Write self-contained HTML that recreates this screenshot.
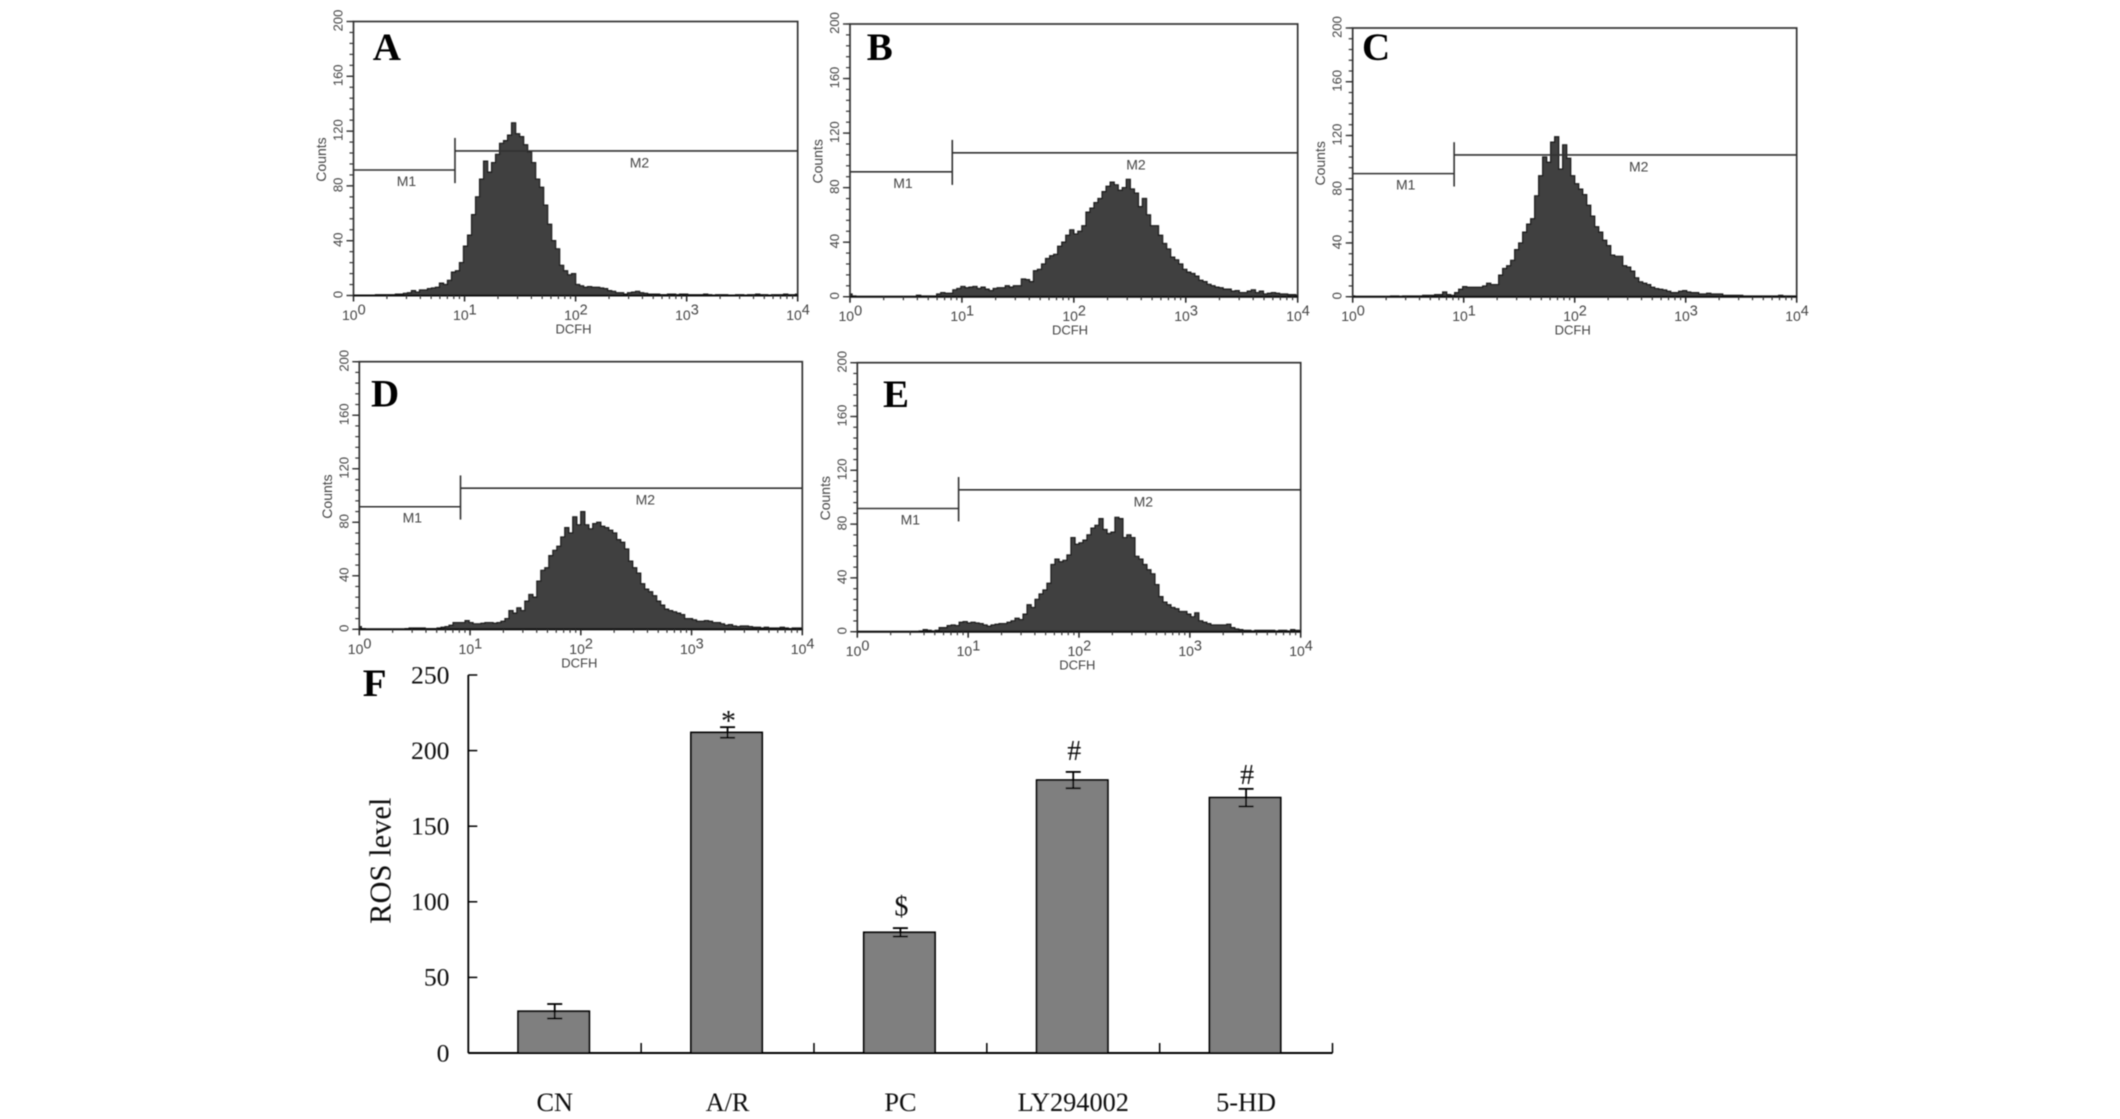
<!DOCTYPE html>
<html lang="en">
<head>
<meta charset="utf-8">
<title>ROS level flow cytometry figure</title>
<style>
html,body{margin:0;padding:0;background:#fff;}
svg{display:block;}
.hist-text{font-family:"Liberation Sans",Arial,sans-serif;fill:#444;}
.ser-text{font-family:"Liberation Serif","Times New Roman",serif;fill:#111;}
</style>
</head>
<body>
<svg id="figure" xmlns="http://www.w3.org/2000/svg" width="2120" height="1119" viewBox="0 0 2120 1119">
<defs>
<filter id="soften" filterUnits="userSpaceOnUse" x="0" y="0" width="2120" height="1119"><feGaussianBlur stdDeviation="0.4"/></filter>
</defs>
<rect x="0" y="0" width="2120" height="1119" fill="#fff"/>
<g id="panels" filter="url(#soften)"></g>
<g id="bars" filter="url(#soften)"></g>
</svg>
<script>
// ---------- Histogram data (counts per log channel, 10^0 .. 10^4) ----------
const countsA = [0,0,0,0,0,0,.5,.5,.5,.5,
.5,1,1,1.5,2,3.5,2.5,4,4,5,
5.5,6,9,8,11,17,18,24,36,44,
59,72,85,98,90,97,103,111,113,117,
126,118,116,110,105,97,85,79,66,52,
40,34,22,18,15,16,8,7,6,6.5,
6,6,5.5,5,3.5,3,2,2,1,2,
2.5,3,2,1.5,1,1,1,.5,.5,1,
1,.5,1,1,.5,.5,.5,.5,1,.5,
0,.5,.5,.5,0,0,.5,.5,0,.5,
.5,1,.5,.5,0,.5,.5,.5,1,.5,
.5,1];
const countsB = [2,.5,0,0,0,0,0,0,0,0,
0,0,0,0,0,0,0,1,.5,.5,
.5,.5,2,3,2.5,2.5,5,6,7.5,6.5,
7,7.5,6,7,5.5,4.5,6,6.5,6.5,8,
7,8,8,13,12.5,11,19,20,24,28,
30,31,37,40,45,49,46,48,52,62,
65,69,72,77,81,84,82,78,80,86,
79,76,66,72,60,52,52,45,39,35,
29,27,24,20,18,17,15,12,11,9,
8,7,6.5,5.5,5.5,4,4.5,3,3,4,
5,3,4,2,2.5,3,2.5,2,2,1.5,
1.5,1];
const countsC = [.5,0,0,0,0,0,0,0,0,0,
.5,.5,0,.5,.5,.5,.5,.5,1,1,
1,1.5,1.5,3.5,1.5,1,3,5.5,7.5,7,
7,7,7,8,10,9,9,16,21,23,
27,35,40,48,54,58,75,90,104,100,
115,119,95,113,103,90,84,80,76,68,
60,52,48,42,38,31,30,30,23,22,
19,14,11,10,9,7,6,5.5,5,4,
3,3,4,4.5,3.5,3,3,2,2,2.5,
2,2,2,1,1,1,1,1,.5,.5,
.5,.5,.5,.5,.5,.5,.5,1,.5,.5,
.5,.5];
const countsD = [2,.5,0,0,0,0,0,0,0,0,
0,0,.5,1,1,1,1,.5,.5,.5,
1,1.5,2,3,5,5,5,6.5,5,4,
4,4.5,5,5,4.5,5,6,8,14,12,
16,14,21,26,24,36,44,46,55,59,
62,69,76,72,84,78,88,78,75,79,
80,77,76,74,72,67,65,60,51,46,
42,34,30,28,25,21,18,15,14,13,
12,11,8,8,7,6,6,6.5,6,5,
5,4,3,3.5,2.5,2,2.5,2.5,2,1.5,
1.5,1,1.5,1,1,1,1.5,1,.5,1,
1,1];
const countsE = [0,0,0,0,0,0,0,0,0,0,
0,0,0,0,0,0,.5,1.5,1,.5,
1,3,3,4.5,5,4.5,7,7.5,6.5,7,
6.5,6,5,4,5,5.5,6,6,7,8,
10,9,13,20,18,24,28,31,36,50,
54,52,53,57,70,65,66,68,72,77,
79,84,76,73,74,85,84,70,72,70,
56,54,50,46,43,35,26,22,20,18,
17,15,15,13,11,14,8,7,6,5,
5,5,5,5.5,3,2,1.5,1,1,.5,
1,1,1,1,1,.5,1,1,.5,1.5,
1,1];
const yTickCounts = [0,40,80,120,160,200];
const yMinorStep = 8;
const xTickExponents = [0,1,2,3,4];
const xMinorMultiples = [2,3,4,5,6,7,8,9];
const gateChannel = 8.2;
const m1Level = 91.6;
const m2Level = 105.5;
const gateLow = 82;
const gateHigh = 115;

// ---------- Bar chart data ----------
const categories = ["CN","A/R","PC","LY294002","5-HD"];
const rosValues = [27.6,212,79.8,180.5,168.9];
const rosErrors = [4.8,3.5,2.8,5.4,5.8];
const significance = ["","*","$","#","#"];
const rosTicks = [0,50,100,150,200,250];

const NS = "http://www.w3.org/2000/svg";
function svgEl(tag, attrs, parent, text){
  const el = document.createElementNS(NS, tag);
  for (const k in attrs) el.setAttribute(k, attrs[k]);
  if (text !== undefined) el.textContent = text;
  parent.appendChild(el);
  return el;
}

// ---------- Panel frames ----------
const panelFrames = {
  A:{left:353.5,right:797.7,top:21.5,bottom:295.5,lx:372.7,ly:60},
  B:{left:850,right:1297.7,top:24,bottom:296.7,lx:866.7,ly:60},
  C:{left:1352.7,right:1796.7,top:28,bottom:296.7,lx:1362,ly:60},
  D:{left:359.3,right:802.3,top:361.7,bottom:629.3,lx:371,ly:406.7},
  E:{left:857.3,right:1300.7,top:362.7,bottom:631.7,lx:883,ly:407}
};

function drawPanel(id, counts){
  const f = panelFrames[id];
  const root = document.getElementById("panels");
  const g = svgEl("g", {}, root);
  
  

  const xLog = v => f.left + (Math.log10(v) / 4) * (f.right - f.left);
  const xChannel = i => f.left + (i / (counts.length - 1)) * (f.right - f.left);
  const y = v => f.bottom - (v / 200) * (f.bottom - f.top);

  // histogram silhouette (stepped per channel)
  const half = (xChannel(1) - xChannel(0)) / 2;
  let d = "M" + xChannel(0).toFixed(1) + " " + f.bottom;
  counts.forEach((c, i) => {
    const a = Math.max(f.left, xChannel(i) - half);
    const b = Math.min(f.right, xChannel(i) + half);
    d += "L" + a.toFixed(1) + " " + y(c).toFixed(1) + "L" + b.toFixed(1) + " " + y(c).toFixed(1);
  });
  d += "L" + f.right.toFixed(1) + " " + f.bottom + "Z";
  const hist = svgEl("path", {d:d, fill:"#3f3f3f", stroke:"#1c1c1c", "stroke-width":1.3, "stroke-linejoin":"miter"}, g);
  
  

  // frame
  const frame = svgEl("rect", {x:f.left, y:f.top, width:f.right - f.left, height:f.bottom - f.top, fill:"none", stroke:"#333", "stroke-width":1.7}, g);
  
  
  const base = svgEl("line", {x1:f.left, x2:f.right, y1:f.bottom, y2:f.bottom, stroke:"#111", "stroke-width":2}, g);
  
  

  // y ticks
  for (let v = 0; v <= 200; v += yMinorStep){
    const t = svgEl("line", {x1:f.left - 4, x2:f.left, y1:y(v), y2:y(v), stroke:"#333", "stroke-width":1.2}, g);
    
    
  }
  yTickCounts.forEach(v => {
    const t = svgEl("line", {x1:f.left - 7, x2:f.left, y1:y(v), y2:y(v), stroke:"#333", "stroke-width":1.4}, g);
    
    
    const lx = f.left - 11, ly = y(v) - 1;
    const l = svgEl("text", {x:lx, y:ly, "font-size":13, "text-anchor":"middle", class:"hist-text", transform:"rotate(-90 " + lx + " " + ly + ")"}, g, String(v));
    
    
  });

  // x ticks
  xTickExponents.forEach(e => {
    const tx = xLog(Math.pow(10, e));
    const t = svgEl("line", {x1:tx, x2:tx, y1:f.bottom, y2:f.bottom + 6, stroke:"#222", "stroke-width":1.5}, g);
    
    
    if (e < 4) xMinorMultiples.forEach(m => {
      const mx = xLog(m * Math.pow(10, e));
      const mt = svgEl("line", {x1:mx, x2:mx, y1:f.bottom, y2:f.bottom + 3.5, stroke:"#333", "stroke-width":1.2}, g);
      
      
    });
    const l = svgEl("text", {x:tx - 11.5, y:f.bottom + 24.5, "font-size":14, class:"hist-text"}, g, "10");
    
    
    const s = svgEl("tspan", {dy:-5.5, "font-size":14.5}, l, String(e));
    
    
  });

  // axis titles
  const cx = f.left - 27.5, cy = (f.top + f.bottom) / 2 + 1;
  const yt = svgEl("text", {x:cx, y:cy, "font-size":14, "text-anchor":"middle", class:"hist-text", transform:"rotate(-90 " + cx + " " + cy + ")"}, g, "Counts");
  
  
  const xt = svgEl("text", {x:f.left + 220, y:f.bottom + 38, "font-size":13, "text-anchor":"middle", class:"hist-text"}, g, "DCFH");
  
  

  // gates
  const gx = xLog(gateChannel);
  const m1 = svgEl("line", {x1:f.left, x2:gx, y1:y(m1Level), y2:y(m1Level), stroke:"#333", "stroke-width":1.6}, g);
  
  
  const m2 = svgEl("line", {x1:gx, x2:f.right, y1:y(m2Level), y2:y(m2Level), stroke:"#333", "stroke-width":1.6}, g);
  
  
  const gv = svgEl("line", {x1:gx, x2:gx, y1:y(gateHigh), y2:y(gateLow), stroke:"#333", "stroke-width":1.6}, g);
  
  
  const m1l = svgEl("text", {x:f.left + 53, y:y(m1Level) + 16, "font-size":14, "text-anchor":"middle", class:"hist-text"}, g, "M1");
  
  
  const m2l = svgEl("text", {x:f.left + 286, y:y(m2Level) + 16.5, "font-size":14, "text-anchor":"middle", class:"hist-text"}, g, "M2");
  
  

  // panel letter
  const pl = svgEl("text", {x:f.lx, y:f.ly, "font-size":39, "font-weight":"bold", class:"ser-text", style:"fill:#000"}, g, id);
  
  
}

drawPanel("A", countsA);
drawPanel("B", countsB);
drawPanel("C", countsC);
drawPanel("D", countsD);
drawPanel("E", countsE);

// ---------- Bar chart ----------
const barRoot = document.getElementById("bars");
const chartLeft = 468.3, chartBottom = 1053, chartTop = 675, chartRight = 1332.5, rosMax = 250;
const barWidth = 71.2;
function bandStep(){ return (chartRight - chartLeft) / categories.length; }
function bandCenter(i){ return chartLeft + bandStep() * (i + 0.5); }
function rosY(v){ return chartBottom - (v / rosMax) * (chartBottom - chartTop); }
function annotationGap(i){
  return [0,2,16.7,20,13.7][i];
}

categories.forEach((name, i) => {
  const c = bandCenter(i);
  const top = rosY(rosValues[i]);
  const bar = svgEl("rect", {x:c - 1 - barWidth / 2, y:top, width:barWidth, height:chartBottom - top, fill:"#7f7f7f", stroke:"#000", "stroke-width":1.8}, barRoot);
  
  

  const hi = rosY(rosValues[i] + rosErrors[i]);
  const lo = rosY(rosValues[i] - rosErrors[i]);
  const stem = svgEl("line", {x1:c, x2:c, y1:hi, y2:lo, stroke:"#000", "stroke-width":1.8}, barRoot);
  
  
  const capT = svgEl("line", {x1:c - 7.5, x2:c + 7.5, y1:hi, y2:hi, stroke:"#000", "stroke-width":1.8}, barRoot);
  
  
  const capB = svgEl("line", {x1:c - 7.5, x2:c + 7.5, y1:lo, y2:lo, stroke:"#000", "stroke-width":1.8}, barRoot);
  
  

  const cat = svgEl("text", {x:c, y:1111, "font-size":26.3, "text-anchor":"middle", class:"ser-text"}, barRoot, name);
  
  

  if (significance[i]){
    const mark = svgEl("text", {x:c + 1, y:top - annotationGap(i), "font-size":significance[i] === "*" ? 30 : 28, "text-anchor":"middle", class:"ser-text"}, barRoot, significance[i]);
    
    
  }

  const divX = chartLeft + bandStep() * (i + 1);
  const div = svgEl("line", {x1:divX, x2:divX, y1:chartBottom, y2:chartBottom - 10, stroke:"#000", "stroke-width":1.5}, barRoot);
  
  
});

const yAxis = svgEl("line", {x1:chartLeft, x2:chartLeft, y1:chartTop, y2:chartBottom, stroke:"#000", "stroke-width":1.8}, barRoot);


const xAxis = svgEl("line", {x1:chartLeft, x2:chartRight, y1:chartBottom, y2:chartBottom, stroke:"#000", "stroke-width":1.9}, barRoot);



rosTicks.forEach(v => {
  const t = svgEl("line", {x1:chartLeft, x2:chartLeft + 9, y1:rosY(v), y2:rosY(v), stroke:"#000", "stroke-width":1.5}, barRoot);
  
  
  const l = svgEl("text", {x:449.5, y:rosY(v) + 8.3, "font-size":25.7, "text-anchor":"end", class:"ser-text"}, barRoot, String(v));
  
  
});

const rosTitle = svgEl("text", {x:390.7, y:860.7, "font-size":30.5, "text-anchor":"middle", class:"ser-text", transform:"rotate(-90 390.7 860.7)"}, barRoot, "ROS level");



const letterF = svgEl("text", {x:362.7, y:696, "font-size":39, "font-weight":"bold", class:"ser-text", style:"fill:#000"}, barRoot, "F");


</script>
</body>
</html>
